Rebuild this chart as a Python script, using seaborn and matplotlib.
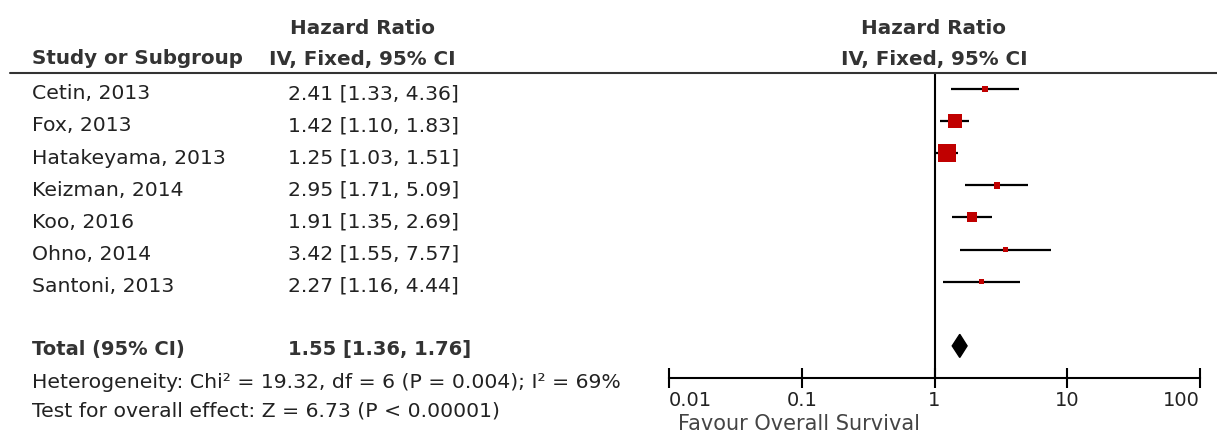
import numpy as np
import pandas as pd
import seaborn as sns
import matplotlib.pyplot as plt
import matplotlib.transforms as mtransforms
from matplotlib.lines import Line2D

# Study data
studies = ['Cetin, 2013', 'Fox, 2013', 'Hatakeyama, 2013', 'Keizman, 2014',
           'Koo, 2016', 'Ohno, 2014', 'Santoni, 2013']
hr = [2.41, 1.42, 1.25, 2.95, 1.91, 3.42, 2.27]
ci_low = [1.33, 1.10, 1.03, 1.71, 1.35, 1.55, 1.16]
ci_high = [4.36, 1.83, 1.51, 5.09, 2.69, 7.57, 4.44]
weight = [4.6, 25.2, 44.7, 5.5, 13.7, 2.6, 3.6]  # % weight

total_hr = 1.55
total_low = 1.36
total_high = 1.76

ticks = [0.01, 0.1, 1, 10, 100]
tick_labels = ['0.01', '0.1', '1', '10', '100']

heterogeneity = 'Heterogeneity: Chi\u00b2 = 19.32, df = 6 (P = 0.004); I\u00b2 = 69%'
overall = 'Test for overall effect: Z = 6.73 (P < 0.00001)'
favour = 'Favour Overall Survival'

df = pd.DataFrame({'study': studies, 'hr': hr, 'lo': ci_low, 'hi': ci_high,
                   'weight': weight})
df['row'] = np.arange(len(df))
total_row = len(df) + 1

sns.set_style('white')
plt.rcParams['font.family'] = ['DejaVu Sans']

W, H = 1217, 434
fig = plt.figure(figsize=(W / 100, H / 100), dpi=100)

# forest panel, placed in pixel terms
x0, x1 = 669, 1200
y_top, y_bot = 73, 378
ax = fig.add_axes([x0 / W, 1 - y_bot / H, (x1 - x0) / W, (y_bot - y_top) / H])

red = '#c00000'
ax.hlines(df['row'], df['lo'], df['hi'], color='black', lw=1.6, zorder=2)
sns.scatterplot(data=df, x='hr', y='row', size='weight', sizes=(10, 170),
                marker='s', color=red, edgecolor=red, linewidth=0,
                legend=False, ax=ax, zorder=3)

# pooled estimate diamond
dh = 0.36
ax.fill([total_low, total_hr, total_high, total_hr],
        [total_row, total_row - dh, total_row, total_row + dh],
        color='black', zorder=3)

ax.axvline(1, color='black', lw=1.5, zorder=1)

ax.set_xscale('log')
ax.set_xlim(ticks[0], ticks[-1])
ax.set_ylim(total_row + 1, -0.5)
ax.set_xticks(ticks)
ax.set_xticklabels(tick_labels, fontsize=14, color='#222222')
ax.minorticks_off()
ax.set_yticks([])
ax.set_xlabel('')
ax.set_ylabel('')
for s in ['top', 'left', 'right']:
    ax.spines[s].set_visible(False)
ax.spines['bottom'].set_linewidth(1.5)
ax.spines['bottom'].set_color('black')
ax.tick_params(axis='x', bottom=True, direction='inout', length=14, width=1.5,
               pad=2, color='black')
labs = ax.get_xticklabels()
labs[0].set_ha('left')
labs[-1].set_ha('right')

# text columns: x in figure pixels, y in data rows
trans = mtransforms.blended_transform_factory(fig.transFigure, ax.transData)
txt = '#222222'
hdr = '#333333'
for _, r in df.iterrows():
    fig.text(32 / W, r['row'] + 0.15, r['study'], transform=trans, va='center',
             fontsize=14.7, color=txt)
    fig.text(288 / W, r['row'] + 0.15, f"{r['hr']:.2f} [{r['lo']:.2f}, {r['hi']:.2f}]",
             transform=trans, va='center', fontsize=14.7, color=txt)

fig.text(32 / W, total_row + 0.1, 'Total (95% CI)', transform=trans, va='center',
         fontsize=14, fontweight='bold', color=hdr)
fig.text(288 / W, total_row + 0.1, f'{total_hr:.2f} [{total_low:.2f}, {total_high:.2f}]',
         transform=trans, va='center', fontsize=14, fontweight='bold', color=hdr)

def ftxt(x, y, s, **kw):
    fig.text(x / W, 1 - y / H, s, va='center', **kw)

ftxt(32, 383, heterogeneity, fontsize=14.7, color=txt)
ftxt(32, 411, overall, fontsize=14.7, color=txt)
ftxt(678, 424, favour, fontsize=15, color='#444444')

# headers
ftxt(362, 28, 'Hazard Ratio', ha='center', fontsize=14.3, fontweight='bold', color=hdr)
ftxt(362, 59, 'IV, Fixed, 95% CI', ha='center', fontsize=14.3, fontweight='bold', color=hdr)
ftxt(32, 59, 'Study or Subgroup', fontsize=14.3, fontweight='bold', color=hdr)
ftxt(934, 28, 'Hazard Ratio', ha='center', fontsize=14.3, fontweight='bold', color=hdr)
ftxt(934, 59, 'IV, Fixed, 95% CI', ha='center', fontsize=14.3, fontweight='bold', color=hdr)

fig.add_artist(Line2D([10 / W, 1], [1 - y_top / H, 1 - y_top / H],
                      transform=fig.transFigure, color='#333333', lw=1.5))

fig.savefig('out.png', dpi=100)
